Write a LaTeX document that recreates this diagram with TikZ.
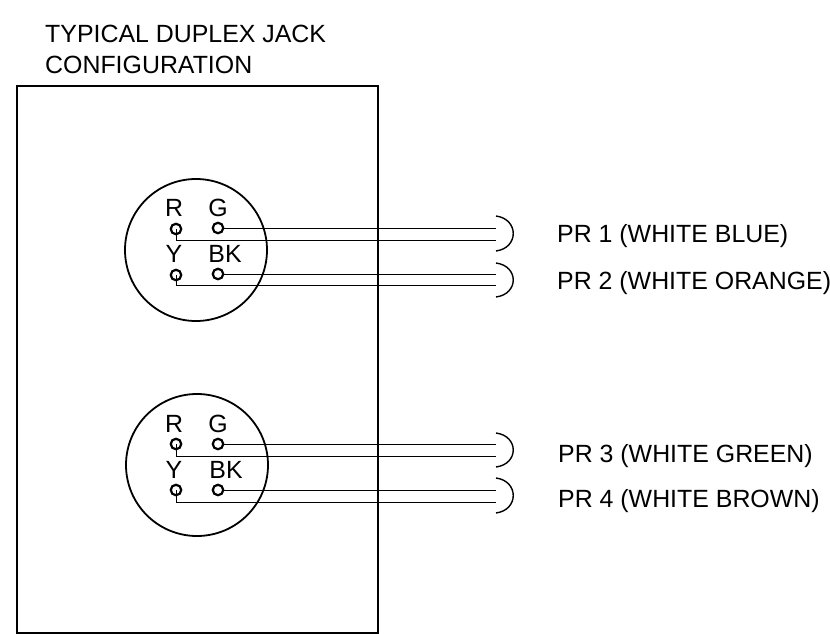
\documentclass[tikz,border=0pt]{standalone}
\usepackage{fontspec}
\setmainfont{Liberation Sans}
\tikzset{
  txt/.style={inner sep=0pt,anchor=base west,font=\fontsize{24.9}{28}\selectfont},
  pinlabel/.style={inner sep=0pt,anchor=base,font=\fontsize{24.9}{28}\selectfont},
  pin/.style={draw,circle,line width=2.2pt,inner sep=0pt,minimum size=10.5pt},
  jack/.style={draw,circle,line width=1.8pt,inner sep=0pt,minimum size=142pt},
  wire/.style={line width=1pt},
  plug/.style={line width=1.4pt}
}
\begin{document}
\begin{tikzpicture}[x=1pt,y=-1pt]
        \useasboundingbox (0,0) rectangle (830,634);
        \node[txt] (title1) at (45,43) {TYPICAL DUPLEX JACK};
        \node[txt] (title2) at (45,74) {CONFIGURATION};
        \node[draw,line width=1.4pt,inner sep=0pt,minimum width=361pt,minimum height=547pt] (panel) at (197.5,359.5) {};
        % upper jack
        \node[jack] (jackA) at (196,250) {};
        \node[pinlabel] (rA) at (174,216) {R};
        \node[pinlabel] (gA) at (218,216) {G};
        \node[pinlabel] (yA) at (174,262) {Y};
        \node[pinlabel] (bkA) at (225,262) {BK};
        \node[pin] (pinrA) at (176,229) {};
        \node[pin] (pingA) at (218,228) {};
        \node[pin] (pinyA) at (176,275) {};
        \node[pin] (pinbkA) at (218,274) {};
        \coordinate (e1) at (496,228);
        \coordinate (e2) at (496,240);
        \coordinate (e3) at (496,274);
        \coordinate (e4) at (496,285);
        \draw[wire] (pingA)--(e1);
        \draw[wire] (pinrA.center)|-(e2);
        \draw[wire] (pinbkA)--(e3);
        \draw[wire] (pinyA.center)|-(e4);
        % lower jack
        \node[jack] (jackB) at (197,465) {};
        \node[pinlabel] (rB) at (174,432) {R};
        \node[pinlabel] (gB) at (218,432) {G};
        \node[pinlabel] (yB) at (174,478) {Y};
        \node[pinlabel] (bkB) at (226,478) {BK};
        \node[pin] (pinrB) at (176,444) {};
        \node[pin] (pingB) at (218,444) {};
        \node[pin] (pinyB) at (176,490) {};
        \node[pin] (pinbkB) at (218,490) {};
        \coordinate (e5) at (496,444);
        \coordinate (e6) at (496,456);
        \coordinate (e7) at (496,490);
        \coordinate (e8) at (496,502);
        \draw[wire] (pingB)--(e5);
        \draw[wire] (pinrB.center)|-(e6);
        \draw[wire] (pinbkB)--(e7);
        \draw[wire] (pinyB.center)|-(e8);
        % plugs
        \coordinate (p1t) at (496,216);
        \coordinate (p1b) at (496,251);
        \coordinate (p2t) at (496,263);
        \coordinate (p2b) at (496,297);
        \coordinate (p3t) at (496,433);
        \coordinate (p3b) at (496,467);
        \coordinate (p4t) at (496,478);
        \coordinate (p4b) at (496,513);
        \draw[plug] (p1t).. controls +(23,3) and +(23,-3) ..(p1b);
        \draw[plug] (p2t).. controls +(23,3) and +(23,-3) ..(p2b);
        \draw[plug] (p3t).. controls +(23,3) and +(23,-3) ..(p3b);
        \draw[plug] (p4t).. controls +(23,3) and +(23,-3) ..(p4b);
        \node[txt] (pr1) at (557,242) {PR 1 (WHITE BLUE)};
        \node[txt] (pr2) at (557,289) {PR 2 (WHITE ORANGE)};
        \node[txt] (pr3) at (558,462) {PR 3 (WHITE GREEN)};
        \node[txt] (pr4) at (558,507) {PR 4 (WHITE BROWN)};
\end{tikzpicture}
\end{document}
